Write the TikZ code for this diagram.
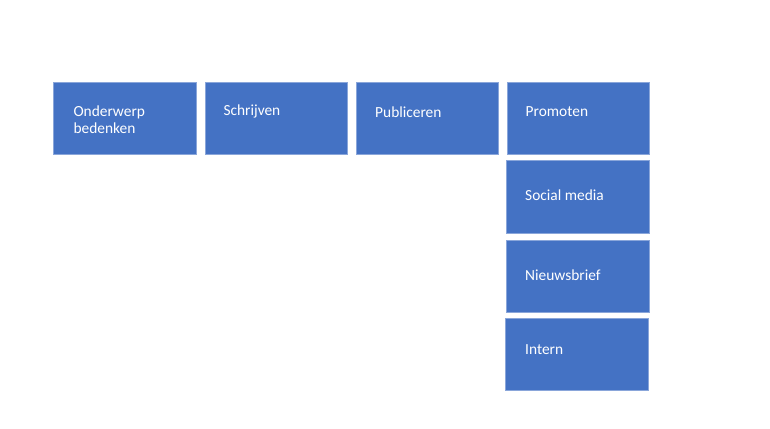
\documentclass[tikz,border=0pt]{standalone}
\usepackage{fontspec}
\setmainfont{Carlito}
\definecolor{boxblue}{HTML}{4472C4}
\definecolor{boxedge}{HTML}{8AA6DA}
\begin{document}
\begin{tikzpicture}[x=1pt,y=-1pt,
  stepbox/.style={draw=boxedge,fill=boxblue,line width=0.7pt},
  lbl/.style={anchor=base west,inner sep=0pt,text=white,font=\fontsize{15.4}{17}\selectfont,align=left}]
\useasboundingbox[fill=white] (0,0) rectangle (770,428);
\draw[stepbox] (53.3,82.3) rectangle (196.5,154) node[pos=0.5] (b1) {};
\draw[stepbox] (205,82.3) rectangle (347.5,154) node[pos=0.5] (b2) {};
\draw[stepbox] (356.3,82.3) rectangle (498.5,154) node[pos=0.5] (b3) {};
\draw[stepbox] (507,82.3) rectangle (649.3,154) node[pos=0.5] (b4) {};
\draw[stepbox] (506.5,160.7) rectangle (649.3,233.3) node[pos=0.5] (b5) {};
\draw[stepbox] (506.5,240) rectangle (649.3,312.3) node[pos=0.5] (b6) {};
\draw[stepbox] (505.5,318.5) rectangle (648.7,390.7) node[pos=0.5] (b7) {};
\node[lbl] (t1) at (73.3,116) {Onderwerp};
\node[lbl] (t1b) at (73.3,133) {bedenken};
\node[lbl] (t2) at (223.3,115.7) {Schrijven};
\node[lbl] (t3) at (375,117.3) {Publiceren};
\node[lbl] (t4) at (525.5,116) {Promoten};
\node[lbl] (t5) at (525,200) {Social media};
\node[lbl] (t6) at (525,280.7) {Nieuwsbrief};
\node[lbl] (t7) at (525,354) {Intern};
\end{tikzpicture}
\end{document}
